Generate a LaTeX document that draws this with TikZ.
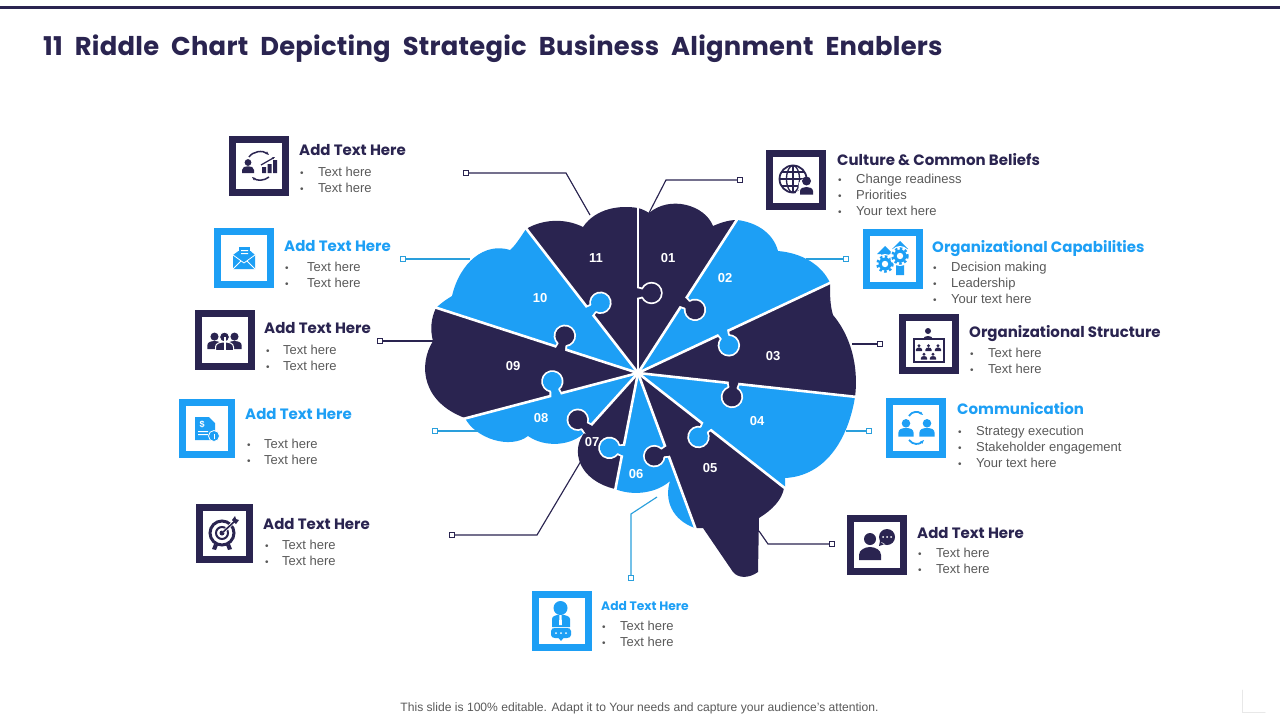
\documentclass[tikz,border=0pt]{standalone}
\usepackage{fontspec}
\setmainfont{Liberation Sans}
\newfontfamily\hfont{Poppins}
\newfontfamily\tfont{Poppins}[WordSpace=2.1,LetterSpace=1]
\usetikzlibrary{arrows.meta}
\definecolor{navy}{HTML}{2A2450}
\definecolor{sky}{HTML}{1D9FF5}
\definecolor{bodygray}{HTML}{595959}
\definecolor{linkblue}{HTML}{2A9FDC}
\tikzset{
  framebox/.style={draw=#1,line width=7pt,fill=white,minimum width=53pt,minimum height=53pt,inner sep=0pt},
  headtext/.style={anchor=base west,inner sep=0pt,text=#1,font=\hfont\bfseries\fontsize{15}{18}\selectfont},
  bodytext/.style={anchor=base west,inner sep=0pt,text=bodygray,font=\fontsize{13}{16}\selectfont},
  numtext/.style={inner sep=0pt,text=white,font=\bfseries\fontsize{13}{15}\selectfont},
  marker/.style={draw=#1,fill=white,line width=1pt,minimum size=5.5pt,inner sep=0pt,outer sep=0pt},
  link/.style={draw=#1,line width=1.15pt},
  seam/.style={draw=white,line width=2.6pt}
}
\newcommand\knob[3]{% colour, seam angle, radius
  \begin{scope}[shift={(638,373)},rotate=#2]
  \begin{scope}[shift={(#3,0)},rotate=-90]
    \fill[white] (13.5,0) circle (11.2);
    \fill[white] (0,-6.5) -- (6,-5) -- (6,5) -- (0,6.5) -- cycle;
    \fill[#1] (13.5,0) circle (9.4);
    \fill[#1] (-2.5,-5) -- (0,-4.6) .. controls (3,-3.4) and (4,-3.2) .. (8,-4.5) -- (8,4.5) .. controls (4,3.2) and (3,3.4) .. (0,4.6) -- (-2.5,5) -- cycle;
  \end{scope}
  \end{scope}}
\newcommand\persona[4]{% colour x y scale
  \fill[#1,shift={(#2,#3)},scale=#4] (0,-6) circle (4.5) (-8,8) -- (-8,4) .. controls (-8,0) and (-4,-1) .. (0,-1) .. controls (4,-1) and (8,0) .. (8,4) -- (8,8) -- cycle;}
\newcommand\hd[5]{\node[headtext=#5] (#1) at (#2,#3+5.3) {#4};}
\newcommand\li[5]{% name xbullet xtext y text
  \node[bodytext] (#1b) at (#2,#4+5) {\fontsize{10}{12}\selectfont •};
  \node[bodytext] (#1) at (#3,#4+5) {#5};}
\begin{document}
\begin{tikzpicture}[x=1pt,y=-1pt]
\useasboundingbox (0,0) rectangle (1280,720);
\fill[navy] (0,6) rectangle (1280,8.5);
\node[anchor=base west,inner sep=0pt,text=navy,font=\tfont\bfseries\fontsize{25.8}{30}\selectfont] (title) at (43,55.5) {11 Riddle Chart Depicting Strategic Business Alignment Enablers};
\node[inner sep=0pt,text=bodygray,font=\fontsize{12.1}{14}\selectfont] (foot) at (639.5,708.5) {This slide is 100\% editable. Adapt it to Your needs and capture your audience’s attention.};
\draw[black!9,line width=1pt,line cap=round] (1242,690) -- (1242,712) -- (1265,712);

% puzzle pieces
\fill[navy] (638,373) -- (638,208) .. controls (620,205) and (596,208) .. (583,227) .. controls (565,218) and (543,219) .. (526,229) -- cycle;
\fill[sky] (638,373) -- (526,229) .. controls (520,238) and (515,246) .. (510,250) .. controls (485,242) and (460,262) .. (452,296) .. controls (447,299) and (441,303) .. (436,308) -- cycle;
\fill[navy] (638,373) -- (436,308) .. controls (431,318) and (430,330) .. (433,341) .. controls (418,365) and (422,402) .. (465,418) -- cycle;
\fill[sky] (638,373) -- (465,418) .. controls (475,438) and (510,450) .. (528,436) .. controls (545,448) and (572,446) .. (585,432) -- cycle;
\fill[navy] (638,373) -- (585,432) .. controls (570,450) and (578,480) .. (615,489) -- cycle;
\fill[sky] (638,373) -- (615,489) .. controls (635,497) and (658,492) .. (670,481) .. controls (664,500) and (672,520) .. (695,528) -- cycle;
\fill[navy] (638,373) -- (695,528) -- (703,528) -- (733,572) .. controls (738,578) and (748,579) .. (758,572) -- (759,518) .. controls (772,510) and (782,500) .. (784,488) -- cycle;
\fill[sky] (638,373) -- (785,487) -- (785,478) .. controls (825,476) and (848,440) .. (855,397) -- cycle;
\fill[navy] (638,373) -- (855,397) .. controls (859,365) and (850,335) .. (833,315) .. controls (830,305) and (830,295) .. (830,283) -- cycle;
\fill[sky] (638,373) -- (830,283) .. controls (822,265) and (802,253) .. (778,251) .. controls (773,232) and (755,222) .. (737,220) -- cycle;
\fill[navy] (638,373) -- (737,220) .. controls (728,220) and (720,223) .. (713,226) .. controls (705,205) and (670,195) .. (649,213) .. controls (646,211) and (642,209) .. (638,208) -- cycle;
% seams
\foreach \sx/\sy in {638/205,738/218,832/282,857/397,786/489,696/530,615/491,584/433,463/419,434/307,525/227}
  \draw[seam] (638,373) -- (\sx,\sy);
% knobs
\knob{navy}{90}{80}
\knob{navy}{57.1}{84}
\knob{sky}{25.1}{94}
\knob{navy}{-6.3}{96}
\knob{sky}{-37.8}{87}
\knob{navy}{-69.8}{83.6}
\knob{sky}{258.8}{79}
\knob{navy}{228}{75}
\knob{sky}{194.6}{85}
\knob{navy}{162.5}{81}
\knob{sky}{127.9}{78.5}
% numbers
\node[numtext] (n01) at (668,258) {01};
\node[numtext] (n02) at (725,278) {02};
\node[numtext] (n03) at (773,356) {03};
\node[numtext] (n04) at (757,421) {04};
\node[numtext] (n05) at (710,468) {05};
\node[numtext] (n06) at (636,474) {06};
\node[numtext] (n07) at (592,442) {07};
\node[numtext] (n08) at (541,418) {08};
\node[numtext] (n09) at (513,366) {09};
\node[numtext] (n10) at (540,298) {10};
\node[numtext] (n11) at (596,258) {11};

% connectors
\node[marker=navy] (m11) at (466,173) {};
\coordinate (k11) at (566,173); \coordinate (e11) at (590,215);
\draw[link=navy] (m11) -- (k11) -- (e11);
\node[marker=linkblue] (m10) at (403,259) {};
\coordinate (e10) at (470,259);
\draw[link=linkblue] (m10) -- (e10);
\node[marker=navy] (m09) at (380,341) {};
\coordinate (e09) at (433,341);
\draw[link=navy] (m09) -- (e09);
\node[marker=linkblue] (m08) at (435,431) {};
\coordinate (e08) at (478,431);
\draw[link=linkblue] (m08) -- (e08);
\node[marker=navy] (m07) at (452,535) {};
\coordinate (k07) at (537,535); \coordinate (e07) at (581,461);
\draw[link=navy] (m07) -- (k07) -- (e07);
\node[marker=linkblue] (m06) at (631,578) {};
\coordinate (k06) at (631,514); \coordinate (e06) at (657,497);
\draw[link=linkblue] (m06) -- (k06) -- (e06);
\node[marker=navy] (m05) at (832,544) {};
\coordinate (k05) at (768,544); \coordinate (e05) at (759,531);
\draw[link=navy] (m05) -- (k05) -- (e05);
\node[marker=linkblue] (m04) at (869,431) {};
\coordinate (e04) at (846,431);
\draw[link=linkblue] (m04) -- (e04);
\node[marker=navy] (m03) at (880,344) {};
\coordinate (e03) at (852,344);
\draw[link=navy] (m03) -- (e03);
\node[marker=linkblue] (m02) at (846,259) {};
\coordinate (e02) at (806,259);
\draw[link=linkblue] (m02) -- (e02);
\node[marker=navy] (m01) at (740,180) {};
\coordinate (k01) at (666,180); \coordinate (e01) at (649,213);
\draw[link=navy] (m01) -- (k01) -- (e01);

% frames
\node[framebox=navy] (b11) at (259,165.5) {};
\node[framebox=sky] (b10) at (244,257.5) {};
\node[framebox=navy] (b09) at (224.5,340) {};
\node[framebox=sky,minimum width=49pt,minimum height=52pt] (b08) at (207,428.5) {};
\node[framebox=navy,minimum width=50pt,minimum height=52pt] (b07) at (224.5,533.5) {};
\node[framebox=sky] (b06) at (561.5,620.5) {};
\node[framebox=navy] (b05) at (877,545) {};
\node[framebox=sky] (b04) at (916,427.5) {};
\node[framebox=navy] (b03) at (929,344) {};
\node[framebox=sky] (b02) at (893,258.5) {};
\node[framebox=navy] (b01) at (796,180) {};

% icon 11
\persona{navy}{248}{167}{0.75}
\fill[navy] (262,167) rectangle (266,173) (267.5,164) rectangle (271.5,173) (273,160) rectangle (277,173);
\draw[navy,line width=1.5pt,-{Stealth[length=4pt]}] (249,157) .. controls (253,151) and (263,150) .. (269,155);
\draw[navy,line width=1.5pt,-{Stealth[length=4pt]}] (269,177) .. controls (264,181) and (257,181) .. (252,177);
\draw[navy,line width=1.2pt,-{Stealth[length=3pt]}] (261,165) -- (275,157);
% icon 10
\fill[sky] (239,247) rectangle (250,258);
\fill[sky] (233,255) -- (238.5,251) -- (250.5,251) -- (255,255) -- (255,269) -- (233,269) -- cycle;
\fill[white] (241,250) rectangle (248,251) (241,253) rectangle (248,254);
\draw[white,line width=0.8pt] (233,255) -- (244,263) -- (255,255) (233,269) -- (241,261) (255,269) -- (247,261);
% icon 09
\persona{navy}{214.5}{342}{0.9}
\persona{navy}{234.5}{342}{0.9}
\draw[white,line width=1pt,fill=navy,shift={(224.5,343)}] (0,-6) circle (5) (-9,7.5) -- (-9,4) .. controls (-9,0) and (-4,-1) .. (0,-1) .. controls (4,-1) and (9,0) .. (9,4) -- (9,7.5) -- cycle;
\fill[white] (223.5,337) rectangle (225.5,350);
% icon 08
\fill[sky] (195,417) -- (209,417) -- (215,423) -- (215,440) -- (195,440) -- cycle;
\node[inner sep=0pt,text=white,font=\bfseries\fontsize{9}{9}\selectfont] (dol) at (202,424) {\$};
\fill[white] (198,431) rectangle (208,432) (198,434) rectangle (208,435);
\draw[white,fill=sky,line width=0.8pt] (214,436) circle (5.5);
\fill[white] (213.5,433.5) rectangle (214.5,438.5);
% icon 07
\draw[navy,line width=3pt] (222,533) circle (12);
\draw[navy,line width=2pt] (222,533) circle (6);
\fill[navy] (222,533) circle (2.5);
\fill[navy] (214,544) -- (218,545) -- (216,550) -- (212,549) -- cycle (230,544) -- (226,545) -- (228,550) -- (232,549) -- cycle;
\draw[white,line width=3pt] (223,532) -- (235,521);
\draw[navy,line width=1.6pt] (222,533) -- (235,521);
\fill[navy] (232,520) -- (235,516) -- (236,519) -- (239,520) -- (236,524) -- cycle;
% icon 06
\fill[sky] (560.5,608) circle (7);
\fill[sky] (552,627) -- (552,619) .. controls (552,616) and (556,615) .. (560.5,614.5) .. controls (565,615) and (570,616) .. (570,619) -- (570,627) -- cycle;
\fill[white] (559.5,615) -- (561.5,615) -- (562,625) -- (559,625) -- cycle;
\fill[sky] (551,631) .. controls (551,628.5) and (553,628) .. (555,628) -- (567,628) .. controls (569,628) and (571,628.5) .. (571,631) -- (571,635) .. controls (571,637) and (569,638) .. (567,638) -- (563.5,638) -- (561,641) -- (558.5,638) -- (555,638) .. controls (553,638) and (551,637) .. (551,635) -- cycle;
\fill[white] (556,633) circle (1) (561,633) circle (1) (566,633) circle (1);
% icon 05
\fill[navy] (870,539) circle (6);
\fill[navy] (859,560) -- (859,555) .. controls (859,550) and (865,547) .. (870,547) .. controls (875,547) and (881,550) .. (881,555) -- (881,560) -- cycle;
\fill[navy] (887,537) circle (8) (880,541) -- (879,546) -- (885,544) -- cycle;
\fill[white] (883,537) circle (1) (887,537) circle (1) (891,537) circle (1);
% icon 04
\persona{sky}{906}{429}{0.95}
\persona{sky}{927}{429}{0.95}
\draw[sky,line width=1.8pt,-{Stealth[length=4pt]}] (909,416) .. controls (912,411) and (918,411) .. (923,415);
\draw[sky,line width=1.8pt,-{Stealth[length=4pt]}] (909,440) .. controls (913,445) and (919,445) .. (924,440);
% icon 03
\fill[navy] (928,331) circle (3);
\fill[navy] (923,339) .. controls (924,335) and (932,335) .. (933,339) -- cycle;
\draw[navy,line width=1.2pt] (914,339) rectangle (944,362);
\persona{navy}{919}{348}{0.38}
\persona{navy}{928.5}{348}{0.38}
\persona{navy}{938}{348}{0.38}
\persona{navy}{924}{356.5}{0.38}
\persona{navy}{933}{356.5}{0.38}
% icon 02
\fill[sky] (877,254) -- (885,246) -- (893,254) -- (889,254) -- (889,272) -- (881,272) -- (881,254) -- cycle;
\fill[sky] (892,249) -- (900,241) -- (908,249) -- (904,249) -- (904,275) -- (896,275) -- (896,249) -- cycle;
\foreach \gx/\gy in {885/264,900/256}{
  \fill[white] (\gx,\gy) circle (10);
  \fill[sky] (\gx,\gy) circle (6.5);
  \draw[sky,line width=2.5pt,dash pattern=on 2.5pt off 2.5pt] (\gx,\gy) circle (7.5);
  \fill[white] (\gx,\gy) circle (3.2);
}
% icon 01
\draw[navy,line width=1.8pt] (793,179) circle (13.5);
\draw[navy,line width=1.3pt] (793,179) ellipse (6.5 and 13.5);
\draw[navy,line width=1.3pt] (793,165.5) -- (793,192.5) (779.5,179) -- (806.5,179) (781.5,172) -- (804.5,172) (781.5,186) -- (804.5,186);
\fill[white] (807,186) circle (8.5) (796,198) -- (796,192) -- (803,188) -- (818,188) -- (818,198) -- cycle;
\fill[navy] (806.5,181) circle (4.5);
\fill[navy] (800,194.5) -- (800,191) .. controls (800,188) and (804,187) .. (806.5,187) .. controls (809,187) and (813,188) .. (813,191) -- (813,194.5) -- cycle;

% texts
\hd{h11}{299}{150}{Add Text Here}{navy}
\li{t11a}{300}{318}{171}{Text here}
\li{t11b}{300}{318}{187}{Text here}
\hd{h10}{284}{246}{Add Text Here}{sky}
\li{t10a}{285}{307}{266}{Text here}
\li{t10b}{285}{307}{282}{Text here}
\hd{h09}{264}{328}{Add Text Here}{navy}
\li{t09a}{266}{283}{349}{Text here}
\li{t09b}{266}{283}{365}{Text here}
\hd{h08}{245}{414}{Add Text Here}{sky}
\li{t08a}{247}{264}{443}{Text here}
\li{t08b}{247}{264}{459}{Text here}
\hd{h07}{263}{524}{Add Text Here}{navy}
\li{t07a}{265}{282}{544}{Text here}
\li{t07b}{265}{282}{560}{Text here}
\node[headtext=sky,font=\hfont\bfseries\fontsize{12.3}{14}\selectfont] (h06) at (601,610.5) {Add Text Here};
\li{t06a}{602}{620}{625}{Text here}
\li{t06b}{602}{620}{641}{Text here}
\hd{h05}{917}{533}{Add Text Here}{navy}
\li{t05a}{918}{936}{552}{Text here}
\li{t05b}{918}{936}{568}{Text here}
\hd{h04}{957}{409}{Communication}{sky}
\li{t04a}{958}{976}{430}{Strategy execution}
\li{t04b}{958}{976}{446}{Stakeholder engagement}
\li{t04c}{958}{976}{462}{Your text here}
\hd{h03}{969}{332}{Organizational Structure}{navy}
\li{t03a}{970}{988}{352}{Text here}
\li{t03b}{970}{988}{368}{Text here}
\hd{h02}{932}{247}{Organizational Capabilities}{sky}
\li{t02a}{933}{951}{266}{Decision making}
\li{t02b}{933}{951}{282}{Leadership}
\li{t02c}{933}{951}{298}{Your text here}
\hd{h01}{837}{160}{Culture \& Common Beliefs}{navy}
\li{t01a}{838}{856}{178}{Change readiness}
\li{t01b}{838}{856}{194}{Priorities}
\li{t01c}{838}{856}{210}{Your text here}
\end{tikzpicture}
\end{document}
